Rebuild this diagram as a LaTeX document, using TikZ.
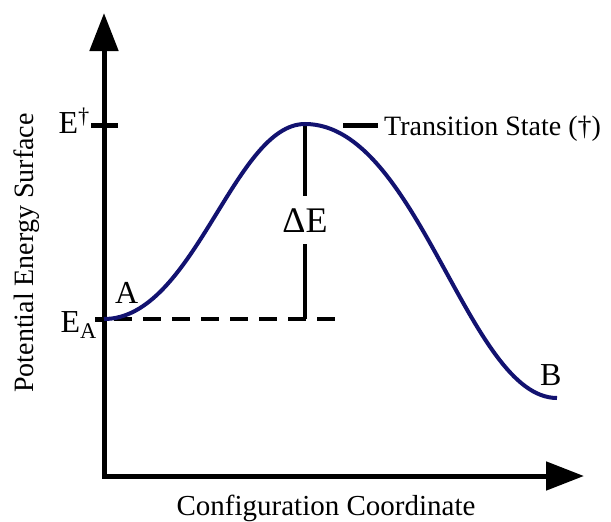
\documentclass[tikz,border=0pt]{standalone}
\usepackage{fontspec}
\setmainfont{Liberation Serif}
\usepackage{xcolor}
\usepackage{tikz}
\usetikzlibrary{arrows.meta, positioning}
\definecolor{pesblue}{RGB}{18,18,112}
\tikzstyle{axisline} = [line width=5pt, line join=miter,
{Triangle[length=38pt, width=28pt]}-{Triangle[length=38pt, width=28pt]}]
\tikzstyle{tickline} = [line width=5pt]
\tikzstyle{levelline} = [line width=4.5pt]
\tikzstyle{dashline} = [line width=4.5pt, dash pattern=on 18pt off 11pt, dash phase=19pt]
\tikzstyle{pescurve} = [line width=4pt, draw=pesblue]
\tikzstyle{axislabel} = [inner sep=0pt, font=\fontsize{28}{32}\selectfont]
\tikzstyle{statelabel} = [inner sep=0pt, font=\fontsize{32}{36}\selectfont]

\begin{document}
\begin{tikzpicture}[x=1pt, y=-1pt]
    \useasboundingbox (0,0) rectangle (611,522);

    \coordinate (origin)  at (104,476);
    \coordinate (ytip)    at (104,13);
    \coordinate (xtip)    at (584,476);
    \coordinate (start)   at (104,319);
    \coordinate (peak)    at (305,124);
    \coordinate (finish)  at (557,398);
    \coordinate (corner)  at (305,319);
    \coordinate (dashend) at (335,319);
    \coordinate (ttl)     at (91,125);
    \coordinate (ttr)     at (118,125);
    \coordinate (tal)     at (95,319);
    \coordinate (tsl)     at (343,125);
    \coordinate (tsr)     at (378,125);

    % labels
    \node (etop) [statelabel, anchor=base east] at (90,133) {E\textsuperscript{†}};
    \node (ea)   [statelabel, anchor=base east] at (97,332) {E\textsubscript{A}};
    \node (a)    [statelabel, anchor=base west] at (115,303) {A};
    \node (b)    [statelabel, anchor=base west] at (540,385) {B};
    \node (de)   [inner sep=12pt, font=\fontsize{36}{40}\selectfont, anchor=base] at (305,232) {ΔE};
    \node (ts)   [axislabel, anchor=base west] at (384,135) {Transition State (†)};
    \node (ylab) [axislabel, rotate=90] at (27,253) {Potential Energy Surface};
    \node (xlab) [axislabel, font=\fontsize{29}{33}\selectfont, anchor=base] at (326,515) {Configuration Coordinate};

    % axes and ticks
    \draw[axisline] (ytip) -- (origin) -- (xtip);
    \draw[tickline] (ttl) -- (ttr);
    \draw[tickline] (tal) -- (start);
    \draw[tickline] (tsl) -- (tsr);

    % energy gap
    \draw[dashline] (start) -- (dashend);
    \draw[levelline] (peak) -- (de.north);
    \draw[levelline] (de.south) -- (corner);

    % reaction path
    \draw[pescurve] (start) .. controls (194,319) and (234,124) .. (peak)
        .. controls (418,124) and (468,398) .. (finish);
\end{tikzpicture}
\end{document}
